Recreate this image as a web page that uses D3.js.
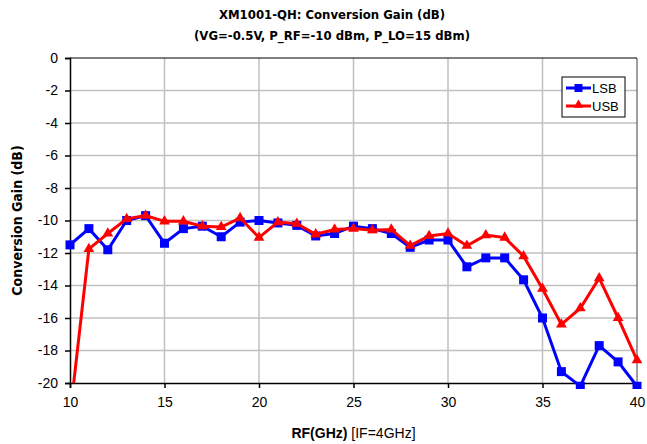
<!DOCTYPE html>
<html>
<head>
<meta charset="utf-8">
<script src="https://cdn.jsdelivr.net/npm/d3@7"></script>
<style>
body { margin: 0; background: #fff; }
</style>
</head>
<body>
<div class="visualization"></div>
<script>
// RF frequency (GHz) and conversion gain (dB)
const rf = [10, 11, 12, 13, 14, 15, 16, 17, 18, 19, 20, 21, 22, 23, 24, 25, 26, 27, 28, 29, 30,
    31, 32, 33, 34, 35, 36, 37, 38, 39, 40];
const lsb = [-11.5, -10.5, -11.8, -10.0, -9.7, -11.4, -10.5, -10.35, -11.0, -10.1, -10.0,
    -10.15, -10.3, -10.95, -10.8, -10.35, -10.5, -10.8, -11.65, -11.2, -11.2,
    -12.85, -12.3, -12.3, -13.65, -16.0, -19.3, -20.2, -17.7, -18.7, -20.2];
const usb = [-22.0, -11.75, -10.8, -9.9, -9.7, -10.05, -10.05, -10.35, -10.4, -9.85, -11.05,
    -10.1, -10.2, -10.85, -10.55, -10.5, -10.6, -10.55, -11.55, -10.95, -10.8,
    -11.55, -10.9, -11.05, -12.2, -14.2, -16.4, -15.4, -13.55, -16.0, -18.6];
const xTicks = [10, 15, 20, 25, 30, 35, 40];
const yTicks = [0, -2, -4, -6, -8, -10, -12, -14, -16, -18, -20];
const seriesNames = ['LSB', 'USB'];

const width = 647, height = 444;
const margin = {top: 58, left: 70, right: 10, bottom: 61};
const innerW = width - margin.left - margin.right;
const innerH = height - margin.top - margin.bottom;
const font = '"Liberation Sans", Arial, sans-serif';

const svg = d3.select('.visualization').append('svg')
    .attr('width', width)
    .attr('height', height);

const x = d3.scaleLinear().domain([10, 40]).range([0, innerW]);
const y = d3.scaleLinear().domain([-20, 0]).range([innerH, 0]);

const main = svg.append('g')
    .attr('transform', `translate(${margin.left},${margin.top})`);

svg.append('defs').append('clipPath').attr('id', 'plot')
    .append('rect').attr('x', -6).attr('y', -6).attr('width', innerW + 12).attr('height', innerH + 12);
svg.select('defs').append('clipPath').attr('id', 'plotTight')
    .append('rect').attr('x', 0).attr('y', 0).attr('width', innerW).attr('height', innerH);

// grid
main.append('g')
    .selectAll('line')
    .data(yTicks.slice(1, -1))
    .enter().append('line')
    .attr('x1', 0).attr('x2', innerW)
    .attr('y1', d => y(d)).attr('y2', d => y(d))
    .style('stroke', '#c0c0c0').style('stroke-width', 1.5);
main.append('g')
    .selectAll('line')
    .data(xTicks.slice(1, -1))
    .enter().append('line')
    .attr('x1', d => x(d)).attr('x2', d => x(d))
    .attr('y1', 0).attr('y2', innerH)
    .style('stroke', '#c0c0c0').style('stroke-width', 1.5);
main.append('line')
    .attr('x1', innerW).attr('x2', innerW).attr('y1', 0).attr('y2', innerH)
    .style('stroke', '#404040').style('stroke-width', 1);
main.append('line')
    .attr('x1', 0).attr('x2', innerW).attr('y1', 0).attr('y2', 0)
    .style('stroke', '#000').style('stroke-width', 1.2);

// axes
const fmt = d => String(d);
const xAxis = main.append('g')
    .attr('transform', `translate(0,${innerH})`)
    .call(d3.axisBottom(x).tickValues(xTicks).tickFormat(fmt).tickSize(5).tickPadding(9));
const yAxis = main.append('g')
    .call(d3.axisLeft(y).tickValues(yTicks).tickFormat(fmt).tickSize(5).tickPadding(7));
[xAxis, yAxis].forEach(a => {
    a.selectAll('text').style('font-family', font).style('font-size', '14px').style('fill', '#000');
    a.selectAll('line, path').style('stroke', '#000').style('stroke-width', 1.5);
});

// series
const colors = ['#0000ff', '#ff0000'];
const line = d3.line().x((d, i) => x(rf[i])).y(d => y(d));
[lsb, usb].forEach((vals, k) => {
    const g = main.append('g').attr('clip-path', 'url(#plot)');
    g.append('path')
        .datum(vals)
        .attr('clip-path', k === 1 ? 'url(#plotTight)' : null)
        .attr('d', line)
        .style('fill', 'none')
        .style('stroke', colors[k])
        .style('stroke-width', 3);
    const pts = vals.map((v, i) => [rf[i], v]).filter(d => d[1] >= -20.5);
    if (k === 0) {
        g.selectAll('rect')
            .data(pts)
            .enter().append('rect')
            .attr('x', d => x(d[0]) - 4.5).attr('y', d => y(d[1]) - 4.5)
            .attr('width', 9).attr('height', 9)
            .style('fill', colors[k]);
    } else {
        g.selectAll('path.mk')
            .data(pts)
            .enter().append('path')
            .attr('class', 'mk')
            .attr('transform', d => `translate(${x(d[0])},${y(d[1])})`)
            .attr('d', d3.symbol(d3.symbolTriangle, 50))
            .style('fill', colors[k]);
    }
});

// legend
const lg = main.append('g').attr('transform', `translate(${562 - margin.left},${77 - margin.top})`);
lg.append('rect').attr('width', 63).attr('height', 40)
    .style('fill', '#fff').style('stroke', '#000').style('stroke-width', 1);
seriesNames.forEach((name, k) => {
    const row = lg.append('g').attr('transform', `translate(0,${11 + k * 18})`);
    row.append('line').attr('x1', 4).attr('x2', 29).attr('y1', 0).attr('y2', 0)
        .style('stroke', colors[k]).style('stroke-width', 3);
    if (k === 0) {
        row.append('rect').attr('x', 12.5).attr('y', -4).attr('width', 8).attr('height', 8).style('fill', colors[k]);
    } else {
        row.append('path').attr('transform', 'translate(16.5,-1)')
            .attr('d', d3.symbol(d3.symbolTriangle, 40)).style('fill', colors[k]);
    }
    row.append('text').attr('x', 30).attr('y', 5).text(name)
        .style('font-family', font).style('font-size', '13px');
});

// titles
const titleFont = '"DejaVu Sans Condensed", "DejaVu Sans", sans-serif';
svg.append('text').attr('x', 332).attr('y', 19).attr('text-anchor', 'middle')
    .text('XM1001-QH: Conversion Gain (dB)')
    .style('font-family', titleFont).style('font-stretch', 'condensed')
    .style('font-weight', 'bold').style('font-size', '13px');
svg.append('text').attr('x', 332).attr('y', 40).attr('text-anchor', 'middle')
    .text('(VG=-0.5V, P_RF=-10 dBm, P_LO=15 dBm)')
    .style('font-family', titleFont).style('font-stretch', 'condensed')
    .style('font-weight', 'bold').style('font-size', '13px');

svg.append('text')
    .attr('transform', `translate(22,${margin.top + innerH / 2}) rotate(-90)`)
    .attr('text-anchor', 'middle')
    .text('Conversion Gain (dB)')
    .style('font-family', titleFont).style('font-stretch', 'condensed')
    .style('font-weight', 'bold').style('font-size', '14px');

const xl = svg.append('text').attr('x', margin.left + innerW / 2).attr('y', 438)
    .attr('text-anchor', 'middle')
    .style('font-family', font).style('font-size', '14px');
xl.append('tspan').text('RF(GHz)').style('font-weight', 'bold');
xl.append('tspan').text(' [IF=4GHz]');
</script>
</body>
</html>
